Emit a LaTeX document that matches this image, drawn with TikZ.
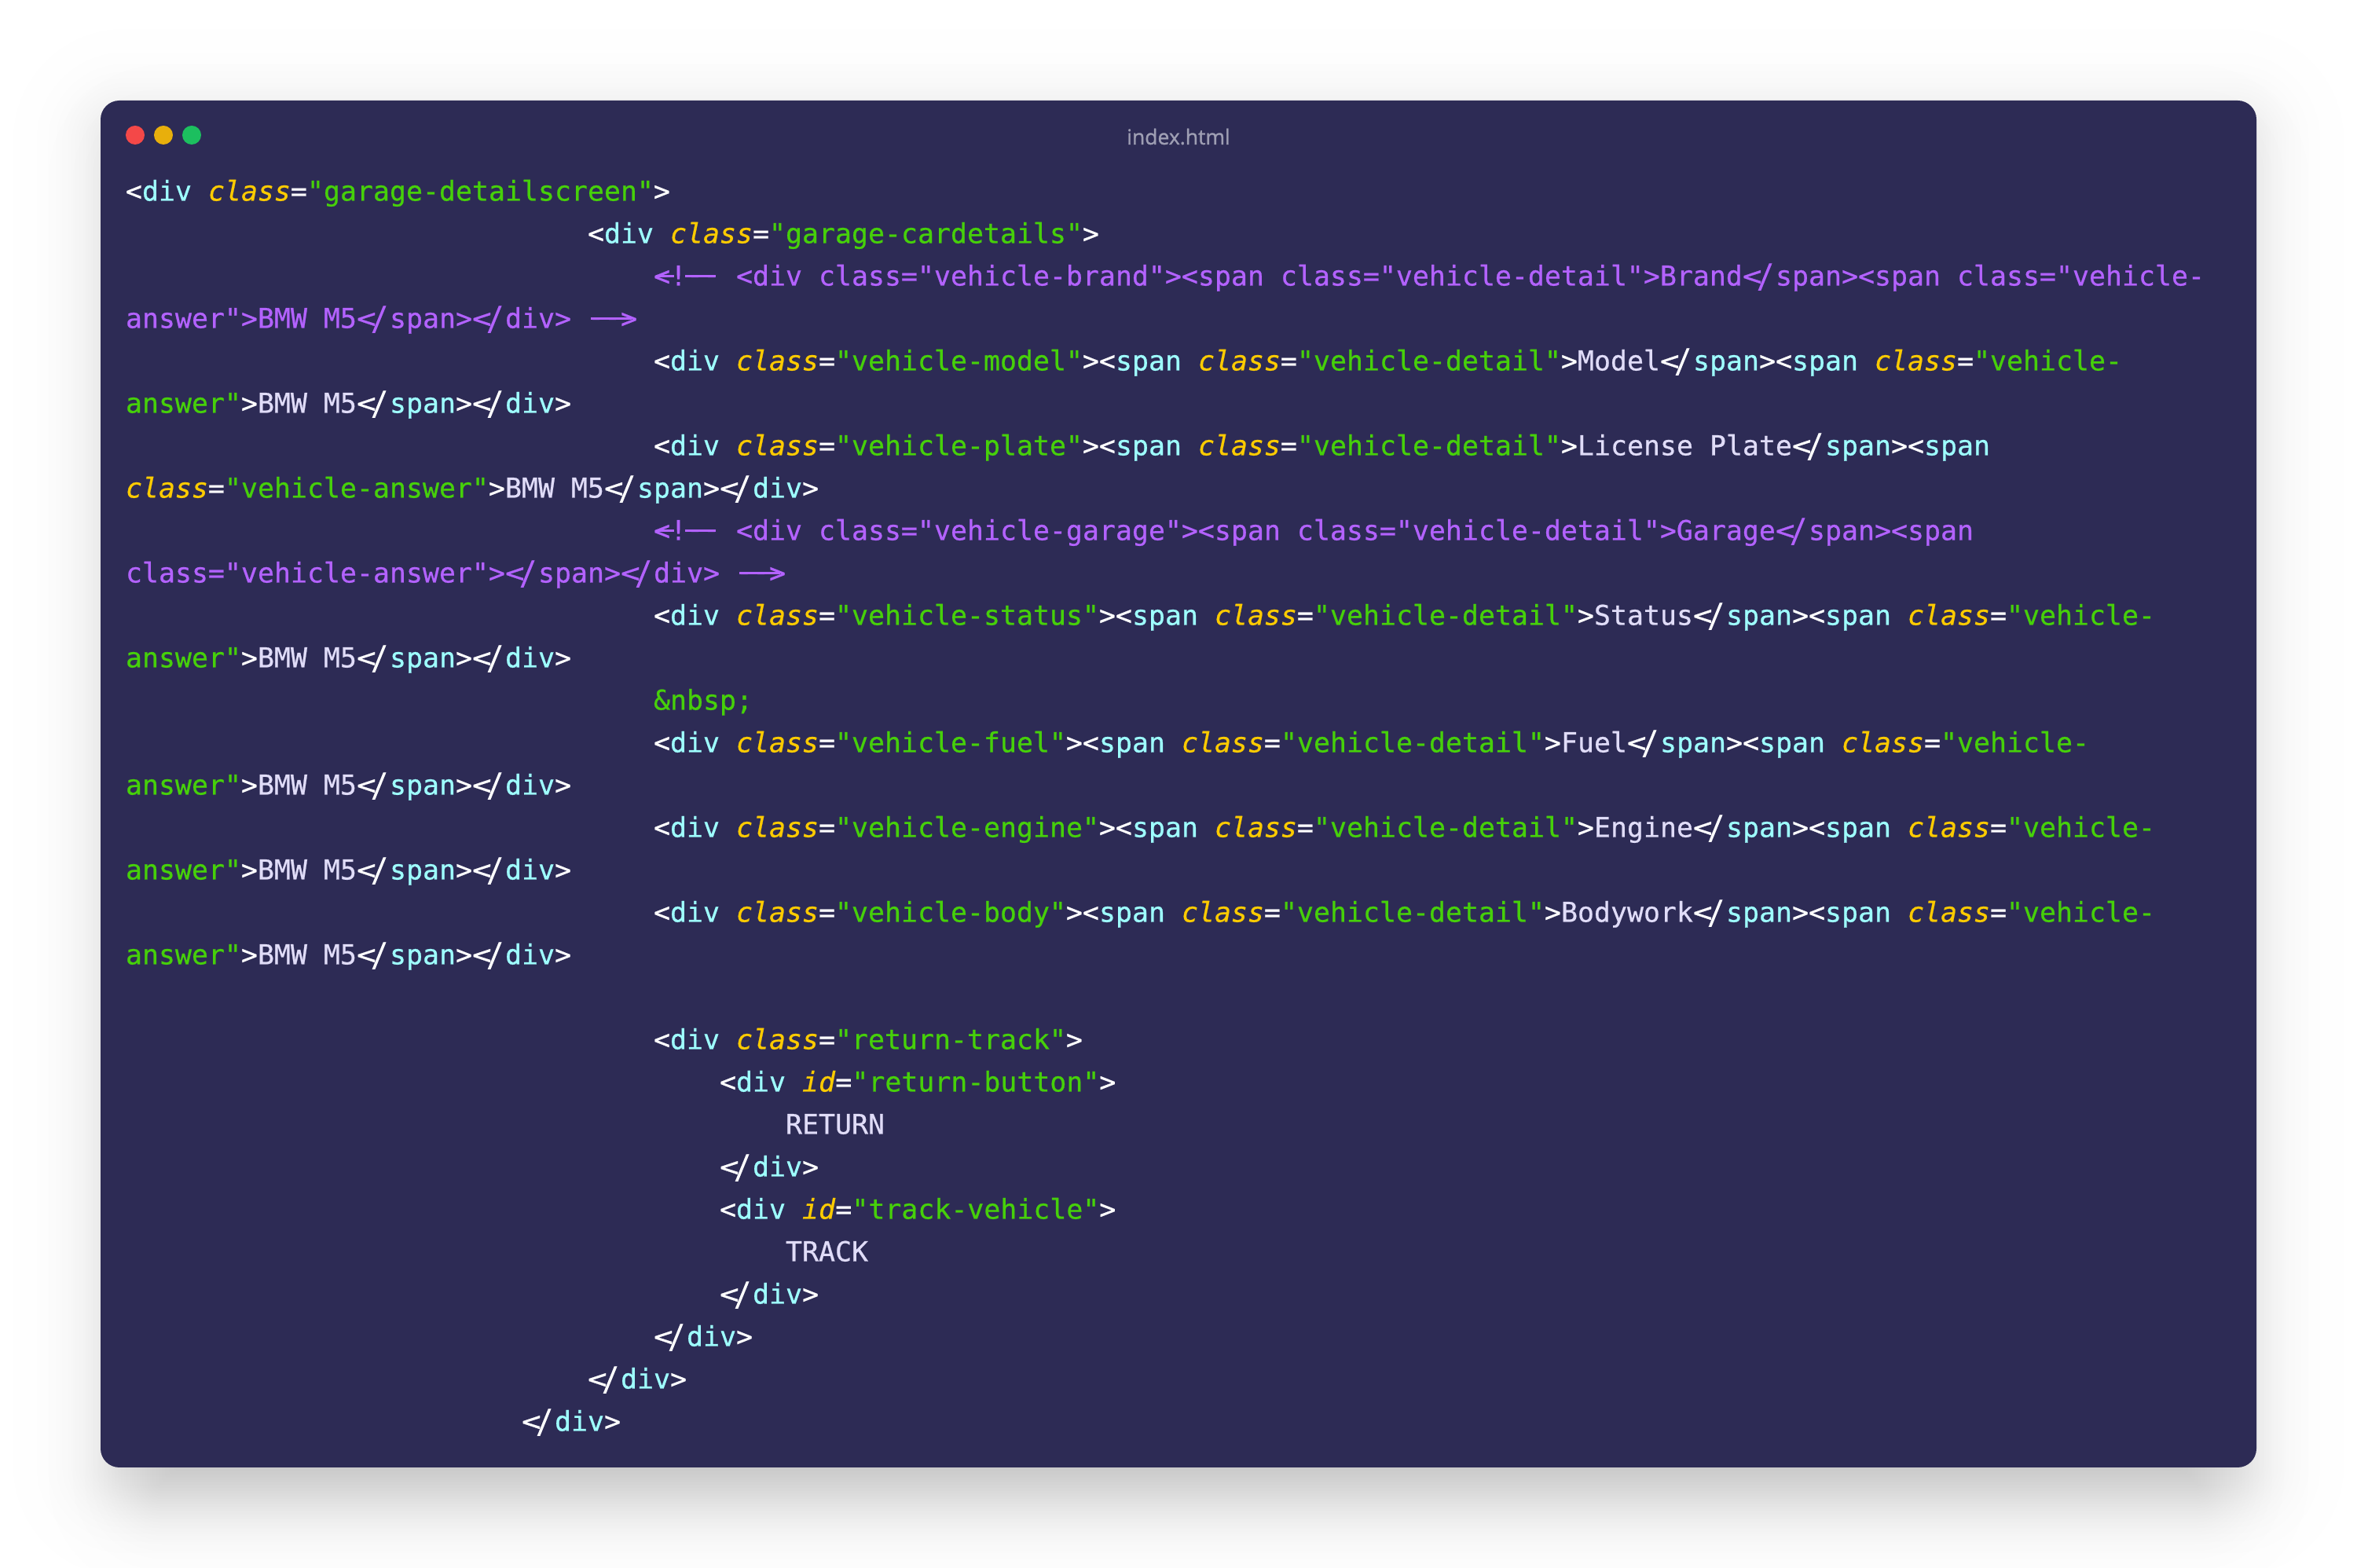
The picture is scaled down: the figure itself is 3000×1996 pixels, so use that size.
\documentclass[tikz,border=0pt]{standalone}
\usepackage{fontspec}
\setmainfont{Open Sans}[FakeBold=1.2]
\setmonofont{DejaVu Sans Mono}[FakeBold=0.6]
\definecolor{cardbg}{HTML}{2D2B55}
\definecolor{ctag}{HTML}{9EFFFF}
\definecolor{cattr}{HTML}{FDCB00}
\definecolor{cstr}{HTML}{46D00A}
\definecolor{ccom}{HTML}{B362FF}
\definecolor{ctxt}{HTML}{E0DCF8}
\definecolor{ctitle}{HTML}{9E9EB3}
\definecolor{dotr}{HTML}{F44848}
\definecolor{doty}{HTML}{E8AF0C}
\definecolor{dotg}{HTML}{1CBF5F}
\newcommand{\Pt}{\textcolor{white}}
\newcommand{\Tg}{\textcolor{ctag}}
\newcommand{\At}[1]{\textcolor{cattr}{\textit{#1}}}
\newcommand{\St}{\textcolor{cstr}}
\newcommand{\Tx}{\textcolor{ctxt}}
% programming ligatures of the reference, kept as real characters
\newcommand{\LS}{\makebox[21pt][l]{\scalebox{1.18}[1]{<}}\kern-3pt\raisebox{-2.5pt}{\scalebox{1.05}[1.2]{/}}\kern2pt}
\newcommand{\LD}{\raisebox{2.4pt}{-}}
\newcommand{\CO}{\makebox[0pt][l]{\kern3pt\rule[10.6pt]{23pt}{2.8pt}}<!\makebox[0pt][l]{\kern-2pt\rule[10.6pt]{39pt}{2.8pt}}\LD\LD}
\newcommand{\CC}{\makebox[0pt][l]{\kern4pt\rule[10.6pt]{52pt}{2.8pt}}\LD\LD>}
\newcommand{\Open}[1]{\Pt{<}\Tg{#1}}
\newcommand{\Close}[1]{\Pt{\LS}\Tg{#1}\Pt{>}}
\newcommand{\Cls}[1]{\At{class}\Pt{=}\St{"#1"}}
\newcommand{\Ans}{\St{answer"}\Pt{>}\Tx{BMW M5}\Close{span}\Close{div}}
\tikzset{
  x=1pt,y=1pt,
  codeline/.style={anchor=base west,inner sep=0pt,outer sep=0pt,font=\ttfamily\fontsize{34.88}{54}\selectfont},
  comline/.style={codeline,text=ccom},
  dot/.style={circle,inner sep=0pt,minimum size=24pt},
  titlelabel/.style={inner sep=0pt,text=ctitle,font=\fontsize{26.5}{30}\selectfont},
}
% #1 layers of 0.4% black, at logistic quantiles around a rounded rectangle
% #2 left, #3 bottom, #4 right, #5 top, #6 blur scale
\newcommand{\softshadow}[6]{%
  \foreach \i in {1,...,#1}{
    \pgfmathsetmacro{\p}{(\i-0.5)/#1}
    \pgfmathsetmacro{\d}{-#6*ln(\p/(1-\p))}
    \pgfmathsetmacro{\r}{max(4,30+\d)}
    \fill[black,fill opacity=0.004,rounded corners=\r pt]
      ({#2-\d},{#3-\d}) rectangle ({#4+\d},{#5+\d});
  }}
\begin{document}
\begin{tikzpicture}
\useasboundingbox (0,0) rectangle (3000,1996);
\fill[white] (0,0) rectangle (3000,1996);
% soft shadow: wide ambient one and a narrower one pushed down
\softshadow{32}{128}{100}{2872}{1848}{27}
\softshadow{34}{176}{80}{2824}{1800}{27}
\fill[cardbg,rounded corners=24pt] (128,128) rectangle (2872,1868);
\node[dot,fill=dotr] (d1) at (172,1824) {};
\node[dot,fill=doty] (d2) at (208,1824) {};
\node[dot,fill=dotg] (d3) at (244,1824) {};
\node[titlelabel] (title) at (1500,1822) {index.html};
\def\Lx#1{\the\numexpr160+21*#1\relax}
\def\Ly#1{{1740.5-54*#1}}
\node[codeline] (l0) at (160,\Ly{0}) {\Open{div} \Cls{garage-detailscreen}\Pt{>}};
\node[codeline] (l1) at (\Lx{28},\Ly{1}) {\Open{div} \Cls{garage-cardetails}\Pt{>}};
\node[comline] (l2) at (\Lx{32},\Ly{2}) {\CO{} <div class="vehicle-brand"><span class="vehicle-detail">Brand\LS{}span><span class="vehicle-};
\node[comline] (l3) at (160,\Ly{3}) {answer">BMW M5\LS{}span>\LS{}div> \CC};
\node[codeline] (l4) at (\Lx{32},\Ly{4}) {\Open{div} \Cls{vehicle-model}\Pt{>}\Open{span} \Cls{vehicle-detail}\Pt{>}\Tx{Model}\Close{span}\Open{span} \At{class}\Pt{=}\St{"vehicle-}};
\node[codeline] (l5) at (160,\Ly{5}) {\Ans};
\node[codeline] (l6) at (\Lx{32},\Ly{6}) {\Open{div} \Cls{vehicle-plate}\Pt{>}\Open{span} \Cls{vehicle-detail}\Pt{>}\Tx{License Plate}\Close{span}\Open{span}};
\node[codeline] (l7) at (160,\Ly{7}) {\Cls{vehicle-answer}\Pt{>}\Tx{BMW M5}\Close{span}\Close{div}};
\node[comline] (l8) at (\Lx{32},\Ly{8}) {\CO{} <div class="vehicle-garage"><span class="vehicle-detail">Garage\LS{}span><span};
\node[comline] (l9) at (160,\Ly{9}) {class="vehicle-answer">\LS{}span>\LS{}div> \CC};
\node[codeline] (l10) at (\Lx{32},\Ly{10}) {\Open{div} \Cls{vehicle-status}\Pt{>}\Open{span} \Cls{vehicle-detail}\Pt{>}\Tx{Status}\Close{span}\Open{span} \At{class}\Pt{=}\St{"vehicle-}};
\node[codeline] (l11) at (160,\Ly{11}) {\Ans};
\node[codeline] (l12) at (\Lx{32},\Ly{12}) {\St{\&nbsp;}};
\node[codeline] (l13) at (\Lx{32},\Ly{13}) {\Open{div} \Cls{vehicle-fuel}\Pt{>}\Open{span} \Cls{vehicle-detail}\Pt{>}\Tx{Fuel}\Close{span}\Open{span} \At{class}\Pt{=}\St{"vehicle-}};
\node[codeline] (l14) at (160,\Ly{14}) {\Ans};
\node[codeline] (l15) at (\Lx{32},\Ly{15}) {\Open{div} \Cls{vehicle-engine}\Pt{>}\Open{span} \Cls{vehicle-detail}\Pt{>}\Tx{Engine}\Close{span}\Open{span} \At{class}\Pt{=}\St{"vehicle-}};
\node[codeline] (l16) at (160,\Ly{16}) {\Ans};
\node[codeline] (l17) at (\Lx{32},\Ly{17}) {\Open{div} \Cls{vehicle-body}\Pt{>}\Open{span} \Cls{vehicle-detail}\Pt{>}\Tx{Bodywork}\Close{span}\Open{span} \At{class}\Pt{=}\St{"vehicle-}};
\node[codeline] (l18) at (160,\Ly{18}) {\Ans};
\node[codeline] (l20) at (\Lx{32},\Ly{20}) {\Open{div} \Cls{return-track}\Pt{>}};
\node[codeline] (l21) at (\Lx{36},\Ly{21}) {\Open{div} \At{id}\Pt{=}\St{"return-button"}\Pt{>}};
\node[codeline] (l22) at (\Lx{40},\Ly{22}) {\Tx{RETURN}};
\node[codeline] (l23) at (\Lx{36},\Ly{23}) {\Close{div}};
\node[codeline] (l24) at (\Lx{36},\Ly{24}) {\Open{div} \At{id}\Pt{=}\St{"track-vehicle"}\Pt{>}};
\node[codeline] (l25) at (\Lx{40},\Ly{25}) {\Tx{TRACK}};
\node[codeline] (l26) at (\Lx{36},\Ly{26}) {\Close{div}};
\node[codeline] (l27) at (\Lx{32},\Ly{27}) {\Close{div}};
\node[codeline] (l28) at (\Lx{28},\Ly{28}) {\Close{div}};
\node[codeline] (l29) at (\Lx{24},\Ly{29}) {\Close{div}};
\end{tikzpicture}
\end{document}
